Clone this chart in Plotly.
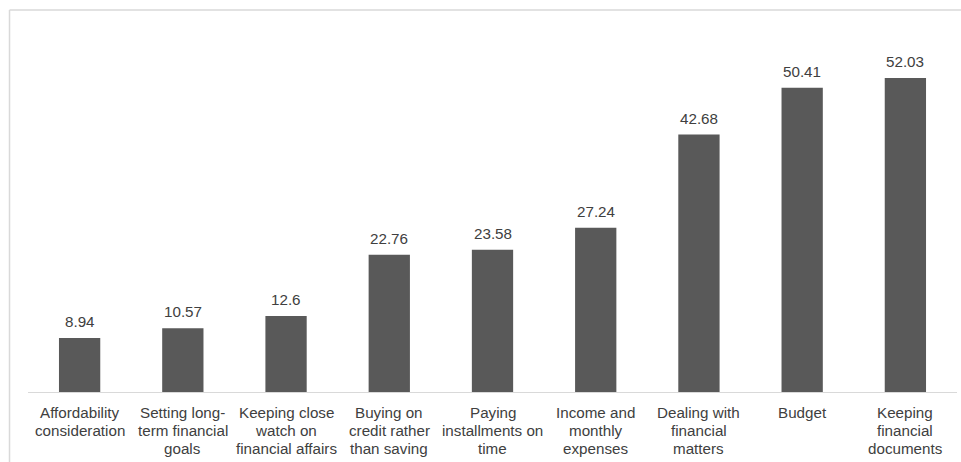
import plotly.graph_objects as go

# Share of respondents (%) reporting difficulty with each financial practice
categories = [
    ["Affordability", "consideration"],
    ["Setting long-", "term financial", "goals"],
    ["Keeping close", "watch on", "financial affairs"],
    ["Buying on", "credit rather", "than saving"],
    ["Paying", "installments on", "time"],
    ["Income and", "monthly", "expenses"],
    ["Dealing with", "financial", "matters"],
    ["Budget"],
    ["Keeping", "financial", "documents"],
]
values = [8.94, 10.57, 12.6, 22.76, 23.58, 27.24, 42.68, 50.41, 52.03]
value_labels = ["8.94", "10.57", "12.6", "22.76", "23.58", "27.24", "42.68", "50.41", "52.03"]

BAR = "#595959"
TEXT = "#404040"
FONT = "Liberation Sans, Arial, sans-serif"
FS = 15.2

xs = list(range(len(categories)))

fig = go.Figure(
    go.Bar(
        x=xs,
        y=values,
        marker=dict(color=BAR, line=dict(width=0)),
        hoverinfo="skip",
    )
)

# value labels above each bar
for i, (v, t) in enumerate(zip(values, value_labels)):
    fig.add_annotation(
        x=i, y=v, text=t, showarrow=False,
        yanchor="bottom", yshift=6,
        font=dict(family=FONT, size=FS, color=TEXT),
    )

# category labels below the axis, one line at a time for tight line spacing
for i, lines in enumerate(categories):
    for k, line in enumerate(lines):
        fig.add_annotation(
            x=i, xref="x", y=0, yref="paper", text=line, showarrow=False,
            yanchor="middle", yshift=-(20 + 18 * k),
            font=dict(family=FONT, size=FS, color=TEXT),
        )

W, H = 961, 462
L, R, T, B = 27.5, 4, 30, 70
pw, ph = W - L - R, H - T - B

# light outer frame (left and top edges)
fx = (9 - L) / pw
fy = (H - B - 10) / ph
fb = (H - B - 462) / ph
fig.add_shape(type="line", xref="paper", yref="paper", x0=fx, x1=fx, y0=fb, y1=fy,
              line=dict(color="#d9d9d9", width=1.5))
fig.add_shape(type="line", xref="paper", yref="paper", x0=fx, x1=(961 - L) / pw, y0=fy, y1=fy,
              line=dict(color="#d9d9d9", width=1.5))

fig.update_layout(
    width=W, height=H,
    margin=dict(l=L, r=R, t=T, b=B, pad=0),
    paper_bgcolor="white", plot_bgcolor="white",
    bargap=0.6,
    showlegend=False,
    font=dict(family=FONT, size=FS, color=TEXT),
)
fig.update_xaxes(
    range=[-0.5, len(categories) - 0.5],
    showline=True, linecolor="#d9d9d9", linewidth=1,
    showgrid=False, ticks="", showticklabels=False,
)
fig.update_yaxes(range=[0, 60], visible=False, showgrid=False)

fig.write_html("out.html")
